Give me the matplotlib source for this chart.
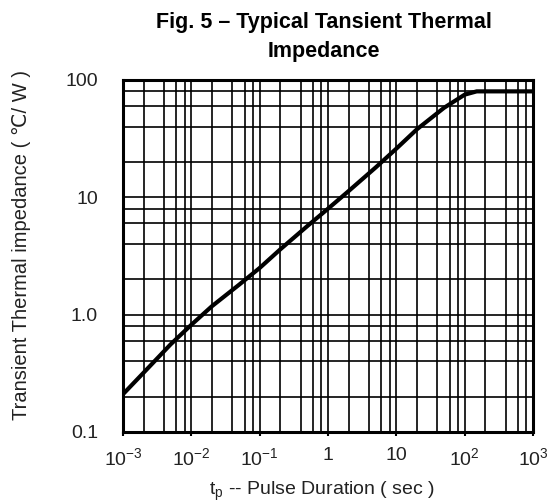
import matplotlib
matplotlib.use("Agg")
import matplotlib.pyplot as plt
from matplotlib.ticker import LogLocator, FixedLocator, FixedFormatter, NullFormatter

# ---- data ----
pulse_duration = [0.001, 0.002, 0.005, 0.01, 0.02, 0.05, 0.1, 0.2, 0.5, 1, 2, 5, 10, 20, 50, 100, 150, 1000]
impedance = [0.21, 0.32, 0.56, 0.82, 1.18, 1.8, 2.5, 3.6, 5.7, 8.0, 11.3, 18, 26, 38, 58, 75, 80, 80]

x_ticks = [1e-3, 1e-2, 1e-1, 1, 10, 1e2, 1e3]
x_tick_labels = [r"10$^{\mathregular{-3}}$", r"10$^{\mathregular{-2}}$", r"10$^{\mathregular{-1}}$", "1", "10",
                 r"10$^{\mathregular{2}}$", r"10$^{\mathregular{3}}$"]
y_ticks = [0.1, 1, 10, 100]
y_tick_labels = ["0.1", "1.0", "10", "100"]

title_text = "Fig. 5 – Typical Tansient Thermal\nImpedance"
x_label = r"t$_{\mathregular{p}}$ -- Pulse Duration ( sec )"
y_label = "Transient Thermal impedance ( ℃/ W )"

# ---- fonts ----
plt.rcParams["font.family"] = ["Liberation Sans", "DejaVu Sans"]
plt.rcParams["mathtext.fontset"] = "custom"
plt.rcParams["mathtext.rm"] = "Liberation Sans"

fig = plt.figure(figsize=(5.52, 5.04), dpi=100)
ax = fig.add_axes([123 / 552, 1 - 432 / 504, 410 / 552, 352 / 504])

ax.plot(pulse_duration, impedance, color="black", lw=3.0, solid_capstyle="butt", zorder=3)

ax.set_xscale("log")
ax.set_yscale("log")
ax.set_xlim(1e-3, 1e3)
ax.set_ylim(0.1, 100)

ax.xaxis.set_major_locator(FixedLocator(x_ticks))
ax.xaxis.set_major_formatter(FixedFormatter(x_tick_labels))
ax.yaxis.set_major_locator(FixedLocator(y_ticks))
ax.yaxis.set_major_formatter(FixedFormatter(y_tick_labels))
ax.xaxis.set_minor_locator(LogLocator(base=10, subs=[2, 4, 6, 8], numticks=20))
ax.yaxis.set_minor_locator(LogLocator(base=10, subs=[2, 4, 6, 8], numticks=20))
ax.xaxis.set_minor_formatter(NullFormatter())
ax.yaxis.set_minor_formatter(NullFormatter())

ax.grid(True, which="both", color="black", lw=1.2)
for s in ax.spines.values():
    s.set_linewidth(2.2)

ax.tick_params(axis="x", which="major", direction="out", length=3, width=1.5, pad=8,
               labelsize=14, labelcolor="#222222")
ax.tick_params(axis="y", which="major", length=0, pad=18, labelsize=14, labelcolor="#222222")
ax.tick_params(which="minor", length=0)

ax.set_xlabel(x_label, fontsize=14, color="#222222")
ax.xaxis.set_label_coords((322 - 123) / 410, -(491 - 432) / 352)
ax.xaxis.label.set_va("center")
ax.set_ylabel(y_label, fontsize=14.5, color="#222222")
ax.yaxis.set_label_coords((22 - 123) / 410, (432 - 245) / 352)
ax.yaxis.label.set_va("center")

fig.text(0.587, 1 - 37 / 504, title_text, ha="center", va="center", fontsize=15.5,
         fontweight="bold", linespacing=1.45)

fig.savefig("out.png", dpi=100)
